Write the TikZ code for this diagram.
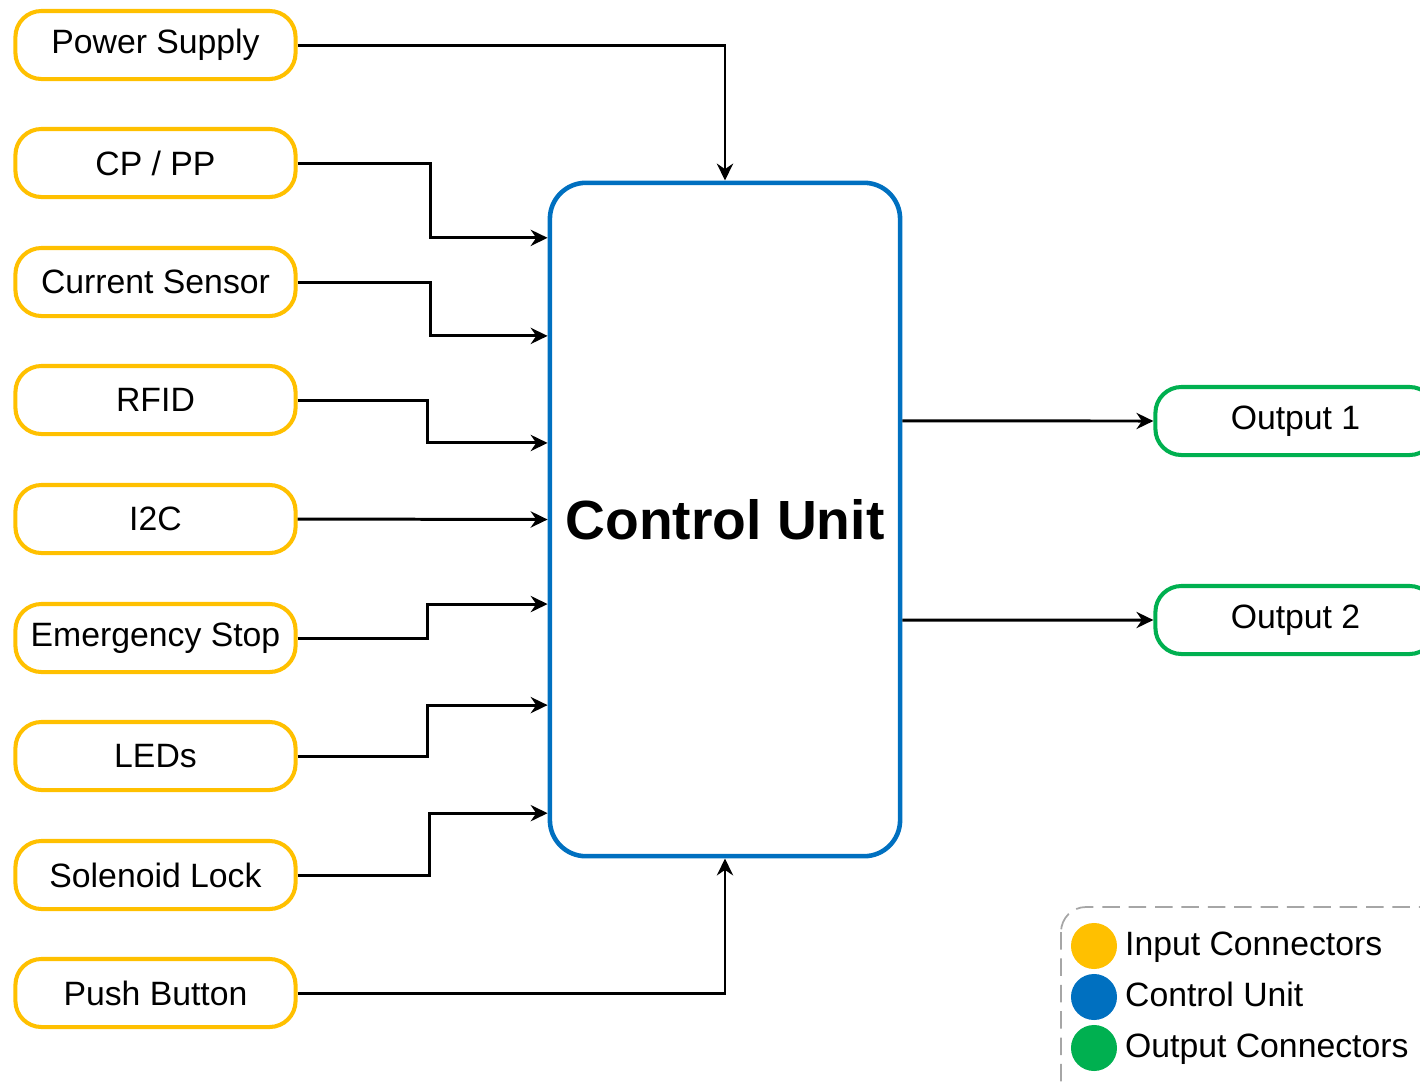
\documentclass[tikz,border=0pt]{standalone}
\usepackage{fontspec}
\setmainfont{Liberation Sans}
\usepackage{tikz}
\usetikzlibrary{positioning,arrows.meta,shapes}
\definecolor{inyellow}{HTML}{FFC000}
\definecolor{cublue}{HTML}{0070C0}
\definecolor{outgreen}{HTML}{00B050}
\begin{document}
\begin{tikzpicture}[x=0.01cm,y=-0.01cm,
		font=\fontsize{9.6}{11.5}\selectfont,
		inbox/.style={draw=inyellow,line width=1.15pt,rounded corners=0.26cm,minimum width=2.8cm,minimum height=0.68cm,fill=white},
		outbox/.style={inbox,draw=outgreen},
		cubox/.style={draw=cublue,line width=1.3pt,rounded corners=0.36cm,minimum width=3.5cm,minimum height=6.73cm},
		conn/.style={draw=black,line width=0.85pt,-{Stealth[length=4.8pt,width=4.6pt]}},
		dot/.style={circle,inner sep=0pt,minimum size=0.46cm},
		legtext/.style={text height=0.72em,text depth=0.2em}]
		\useasboundingbox (0,0) rectangle (1420,1084);
		% inputs
		\foreach \nm/\txt/\yy in {ps/Power Supply/45, cp/{CP / PP}/163, cs/Current Sensor/282,
			rfid/RFID/400, iic/I2C/519, es/Emergency Stop/638, leds/LEDs/756,
			sl/Solenoid Lock/875, pb/Push Button/993}
			\node[inbox] (\nm) at (155.5,\yy) {\txt};
		\node[cubox] (cu) at (725,519.5) {\fontsize{15.7}{18}\selectfont\bfseries Control Unit};
		% outputs
		\node[outbox] (o1) at (1295.5,421) {Output 1};
		\node[outbox] (o2) at (1295.5,620) {Output 2};
		% connections
		\draw[conn] (ps.east) -| (cu.north);
		\draw[conn] (cp.east) -- ++(133,0) |- ([yshift=2.815cm]cu.west);
		\draw[conn] (cs.east) -- ++(133,0) |- ([yshift=1.835cm]cu.west);
		\draw[conn] (rfid.east) -- ++(130,0) |- ([yshift=0.765cm]cu.west);
		\draw[conn] (iic.east) -- (cu.west);
		\draw[conn] (es.east) -- ++(130,0) |- ([yshift=-0.845cm]cu.west);
		\draw[conn] (leds.east) -- ++(130,0) |- ([yshift=-1.855cm]cu.west);
		\draw[conn] (sl.east) -- ++(132,0) |- ([yshift=-2.935cm]cu.west);
		\draw[conn] (pb.east) -| (cu.south);
		\draw[conn] ([yshift=0.985cm]cu.east) -- (o1.west);
		\draw[conn] ([yshift=-1.005cm]cu.east) -- (o2.west);
		% legend
		\draw[gray!70,dashed,dash pattern=on 5pt off 2.5pt,line width=0.5pt,rounded corners=0.25cm] (1061,907) rectangle (1460,1120);
		\node[dot,fill=inyellow] (lin) at (1094,946) {};
		\node[dot,fill=cublue] (lcu) at (1094,997) {};
		\node[dot,fill=outgreen] (lout) at (1094,1048) {};
		\node[legtext,right=-0.05cm of lin] (tin) {Input Connectors};
		\node[legtext,right=-0.05cm of lcu] (tcu) {Control Unit};
		\node[legtext,right=-0.05cm of lout] (tout) {Output Connectors};
\end{tikzpicture}
\end{document}
